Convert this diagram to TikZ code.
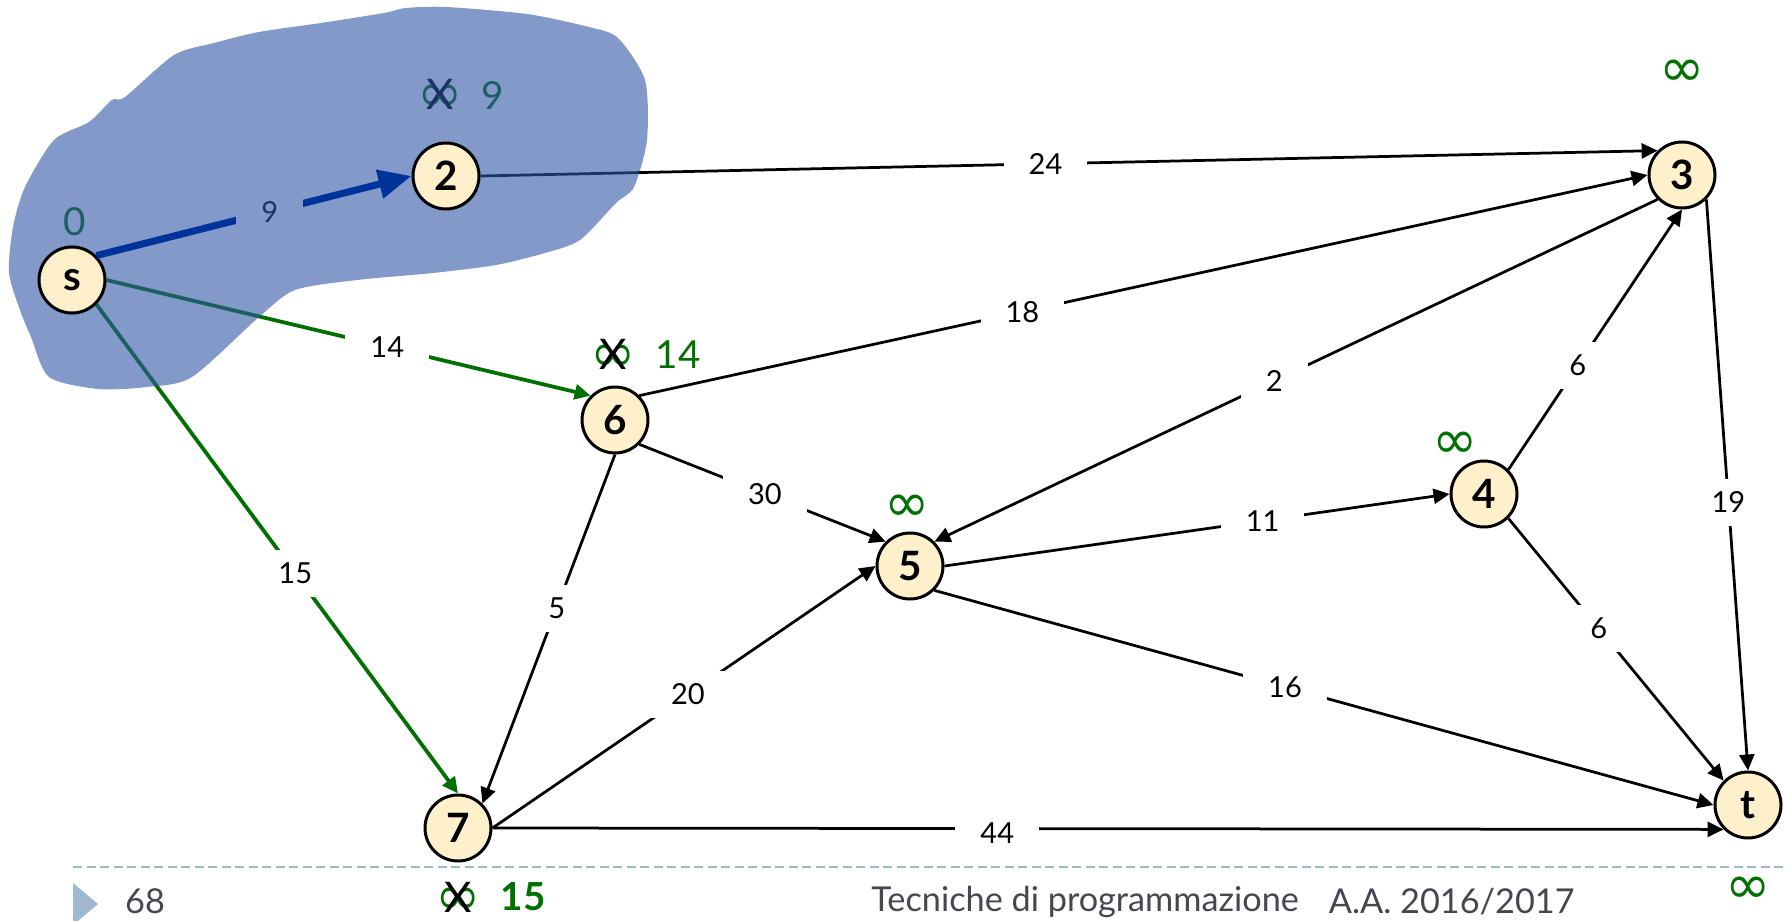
\documentclass[tikz,border=0pt]{standalone}
\usepackage{fontspec}
\setmainfont{Lato}
\newfontfamily\symf{DejaVu Sans}
\usepackage{tikz}
\usetikzlibrary{arrows.meta}
\definecolor{nodecream}{RGB}{255,240,204}
\definecolor{pathgreen}{RGB}{0,112,0}
\definecolor{treeblue}{RGB}{0,51,153}
\definecolor{blobblue}{RGB}{47,85,165}
\definecolor{footgrey}{RGB}{70,70,80}
\definecolor{footline}{RGB}{160,184,204}
\pgfdeclarelayer{edges}
\pgfdeclarelayer{shade}
\pgfsetlayers{edges,shade,main}
\newcommand{\infsym}{{\fontsize{31}{31}\selectfont\symf ∞}}
\newcommand{\crossinf}{\ooalign{\hfil\textcolor{pathgreen}{\raisebox{-0.3mm}{\infsym}}\hfil\cr\hfil X\hfil\cr}}

\begin{document}
\begin{tikzpicture}[
  x=0.2mm,y=-0.2mm,
  vertex/.style={circle,draw=black,line width=0.6mm,fill=nodecream,minimum size=13.2mm,inner sep=0pt,font=\fontsize{23}{23}\selectfont\bfseries},
  edge/.style={line width=0.55mm,-{Triangle[length=3.2mm,width=3mm]}},
  pathedge/.style={edge,draw=pathgreen,line width=0.75mm},
  weight/.style={fill=white,inner xsep=5mm,inner ysep=2.6mm,text=black,font=\fontsize{16.5}{16.5}\selectfont},
  dist/.style={font=\fontsize{22}{22}\selectfont,text=pathgreen},
  infty/.style={text=pathgreen},
  crossed/.style={font=\fontsize{24}{24}\selectfont,text=black},
  foot/.style={inner sep=0pt,font=\fontsize{19.5}{19.5}\selectfont,text=footgrey}
]
\useasboundingbox (0,0) rectangle (1786,921);

\node[vertex] (s) at (72,280) {s};
\node[vertex] (v2) at (446,176) {2};
\node[vertex] (v3) at (1682,175) {3};
\node[vertex] (v4) at (1484,494) {4};
\node[vertex] (v5) at (910,566) {5};
\node[vertex] (v6) at (615,420) {6};
\node[vertex] (v7) at (458,828) {7};
\node[vertex] (t) at (1748,805) {t};

\begin{pgfonlayer}{edges}
% edges still black / green
\draw[pathedge] (s.east) -- node[weight,pos=0.58]{14} (v6.north west);
\draw[pathedge] (s.south east) -- node[weight,pos=0.55]{15} (v7.north);
\draw[edge] (v2.east) -- node[weight,pos=0.48]{24} (v3.north west);
\draw[edge] (v6.north east) -- node[weight,pos=0.38]{18} (v3.west);
\draw[edge] (v3.south west) -- node[weight,pos=0.53]{2} (v5.north east);
\draw[edge] (v4.north east) -- node[weight,pos=0.4]{6} (v3.south);
\draw[edge] (v3.south east) -- node[weight,pos=0.53]{19} (t.north);
\draw[edge] (v6.south east) -- node[weight,pos=0.51]{30} (v5.north west);
\draw[edge] (v6.south) -- node[weight,pos=0.44]{5} (v7.north east);
\draw[edge] (v7.east) -- node[weight,pos=0.51]{20} (v5.west);
\draw[edge] (v5.east) -- node[weight,pos=0.63]{11} (v4.west);
\draw[edge] (v5.south east) -- node[weight,pos=0.45]{16} (t.west);
\draw[edge] (v4.south east) -- node[weight,pos=0.42]{6} (t.north west);
\draw[edge] (v7.east) -- node[weight,pos=0.41,yshift=-1mm]{44} (t.south west);

% distances
\node[dist] (d0) at (75,222) {0};
\node[crossed] (x2) at (440,97) {\crossinf};
\node[dist] (d2) at (493,95) {9};
\node[crossed] (x6) at (613,357) {\crossinf};
\node[dist] (d6) at (678,355) {14};
\node[infty] (d3) at (1682,73) {\infsym};
\node[infty] (d4) at (1455,445) {\infsym};
\node[infty] (d5) at (907,508) {\infsym};
\node[infty] (dt) at (1748,890) {\infsym};
\node[crossed] (x7) at (458,900) {\crossinf};
\node[dist,font=\fontsize{22}{22}\selectfont\bfseries] (d7) at (523,897) {15};
\end{pgfonlayer}

\begin{pgfonlayer}{shade}
\fill[blobblue,fill opacity=0.6] plot[smooth cycle,tension=0.45] coordinates {
  (54,140) (89,122) (112,100) (125,97) (174,55) (214,43) (259,32) (321,23)
  (384,13) (406,8) (446,7) (527,14) (589,27) (618,38) (645,80) (647,140)
  (634,187) (616,203) (580,240) (545,253) (496,265) (433,273) (357,280)
  (295,290) (259,317) (192,377) (147,387) (98,389) (49,377) (31,337)
  (20,310) (9,273) (13,227) (25,187)};
\end{pgfonlayer}

\draw[treeblue,line width=1.4mm,-{Triangle[length=6.6mm,width=5.6mm]}] (s.north east) -- node[weight,pos=0.55,fill=blobblue!60!white,text=blobblue!60!black]{9} (v2.west);

% footer
\draw[footline,line width=0.4mm,dash pattern=on 1.8mm off 0.9mm] (73,867) -- (1786,867);
\fill[footline] (73,883) -- (98,904) -- (73,925) -- cycle;
\node[foot] (pagenum) at (145,901) {68};
\node[foot,anchor=west] (course) at (871,902) {Tecniche di programmazione};
\node[foot,anchor=east] (year) at (1575,902) {A.A. 2016/2017};

\end{tikzpicture}
\end{document}
